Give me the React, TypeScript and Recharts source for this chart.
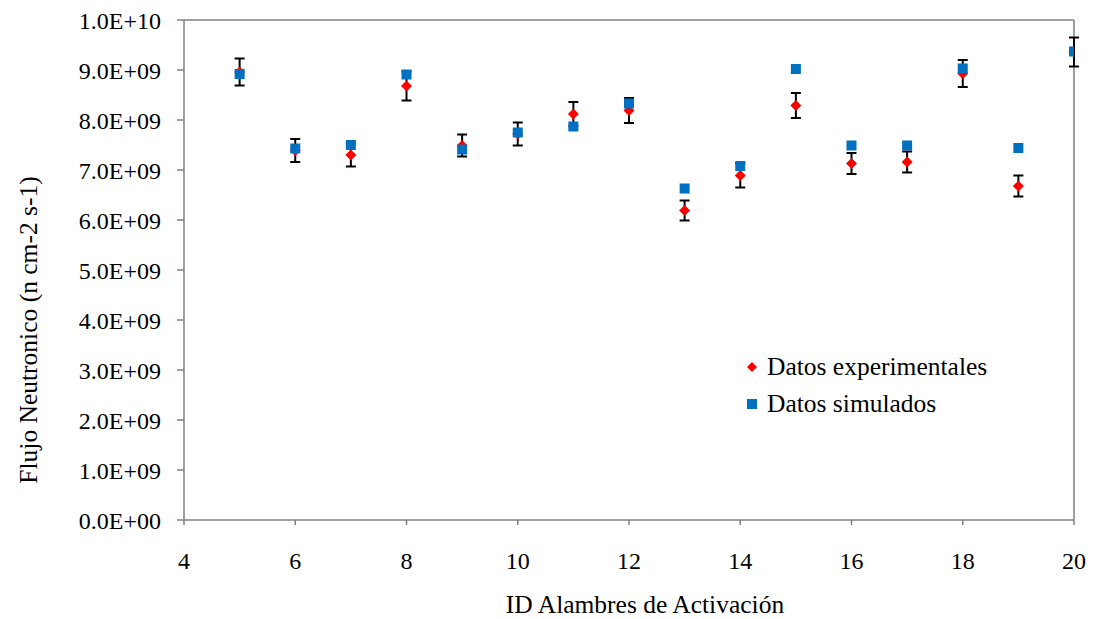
import React from "react";
import {
  ScatterChart,
  Scatter,
  XAxis,
  YAxis,
  ErrorBar,
  ReferenceLine,
  Legend,
  Label,
} from "recharts";

const ids = [5, 6, 7, 8, 9, 10, 11, 12, 13, 14, 15, 16, 17, 18, 19, 20];
const experimental = [8.96, 7.39, 7.30, 8.68, 7.49, 7.72, 8.12, 8.19, 6.19, 6.89, 8.29, 7.13, 7.16, 8.93, 6.68, 9.36];
const expError = [0.27, 0.23, 0.23, 0.29, 0.22, 0.23, 0.24, 0.25, 0.20, 0.24, 0.25, 0.21, 0.21, 0.27, 0.21, 0.29];
const simulated = [8.92, 7.43, 7.50, 8.91, 7.41, 7.75, 7.87, 8.33, 6.63, 7.08, 9.02, 7.49, 7.49, 9.03, 7.44, 9.37];
const xTicks = [4, 6, 8, 10, 12, 14, 16, 18, 20];
const yTicks = [0, 1e9, 2e9, 3e9, 4e9, 5e9, 6e9, 7e9, 8e9, 9e9, 1e10];

const expData = ids.map((id, i) => ({ x: id, y: experimental[i] * 1e9, err: expError[i] * 1e9 }));
const simData = ids.map((id, i) => ({ x: id, y: simulated[i] * 1e9 }));

const RED = "#FF0000";
const BLUE = "#0070C0";
const AXIS = "#808080";
const FONT = "Liberation Serif";

const fmt = (v: number) => {
  const [m, e] = v.toExponential(1).split("e");
  const sign = e[0] === "-" ? "-" : "+";
  const digits = e.replace(/[+-]/, "").padStart(2, "0");
  return `${m}E${sign}${digits}`;
};

const Diamond = (props: any) => {
  const { cx, cy } = props;
  const r = 5.5;
  return <polygon points={`${cx},${cy - r} ${cx + r},${cy} ${cx},${cy + r} ${cx - r},${cy}`} fill={RED} />;
};

const Square = (props: any) => {
  const { cx, cy } = props;
  const s = 10;
  return <rect x={cx - s / 2} y={cy - s / 2} width={s} height={s} fill={BLUE} />;
};

const XTitle = (props: any) => {
  const vb = props.viewBox || {};
  const x = vb.x + vb.width / 2 + 16;
  return (
    <text x={x} y={613} textAnchor="middle" fontFamily={FONT} fontSize={25.5} fill="#000">
      ID Alambres de Activación
    </text>
  );
};

const YTitle = (props: any) => {
  const vb = props.viewBox || {};
  const cy = vb.y + vb.height / 2 + 60;
  const x = 37;
  return (
    <text
      x={x}
      y={cy}
      transform={`rotate(-90, ${x}, ${cy})`}
      textAnchor="middle"
      fontFamily={FONT}
      fontSize={25.5}
      fill="#000"
    >
      Flujo Neutronico (n cm-2 s-1)
    </text>
  );
};

const LegendContent = () => (
  <div style={{ fontFamily: FONT, fontSize: 25.5, color: "#000", lineHeight: "37px", whiteSpace: "nowrap" }}>
    <div style={{ display: "flex", alignItems: "center" }}>
      <svg width={16} height={16} style={{ marginRight: 7, flex: "none" }}>
        <polygon points="8,3 13,8 8,13 3,8" fill={RED} />
      </svg>
      Datos experimentales
    </div>
    <div style={{ display: "flex", alignItems: "center" }}>
      <svg width={16} height={16} style={{ marginRight: 7, flex: "none" }}>
        <rect x={3} y={3} width={10} height={10} fill={BLUE} />
      </svg>
      Datos simulados
    </div>
  </div>
);

export default function App() {
  return (
    <div style={{ position: "absolute", left: 0, top: 0, background: "#fff" }}>
      <ScatterChart width={1095} height={619} margin={{ top: 20, right: 21, bottom: 69, left: 0 }}>
        <XAxis
          type="number"
          dataKey="x"
          domain={[4, 20]}
          ticks={xTicks}
          allowDataOverflow
          stroke={AXIS}
          strokeWidth={1.5}
          tickSize={5}
          tickMargin={27}
          tick={{ fill: "#000", fontFamily: FONT, fontSize: 24 }}
        >
          <Label content={<XTitle />} />
        </XAxis>
        <YAxis
          type="number"
          dataKey="y"
          domain={[0, 1e10]}
          ticks={yTicks}
          width={184}
          stroke={AXIS}
          strokeWidth={1.5}
          tickSize={7}
          tickMargin={16}
          tickFormatter={fmt}
          tick={{ fill: "#000", fontFamily: FONT, fontSize: 24 }}
        >
          <Label content={<YTitle />} />
        </YAxis>
        <ReferenceLine y={1e10} stroke={AXIS} strokeWidth={1.5} />
        <ReferenceLine x={20} stroke={AXIS} strokeWidth={1.5} />
        <Legend
          content={<LegendContent />}
          layout="vertical"
          align="center"
          verticalAlign="middle"
          wrapperStyle={{ left: 744, top: 348, width: 320 }}
        />
        <Scatter name="Datos experimentales" data={expData} shape={<Diamond />} isAnimationActive={false}>
          <ErrorBar dataKey="err" direction="y" width={5} stroke="#000" strokeWidth={2} />
        </Scatter>
        <Scatter name="Datos simulados" data={simData} shape={<Square />} isAnimationActive={false} />
      </ScatterChart>
    </div>
  );
}
